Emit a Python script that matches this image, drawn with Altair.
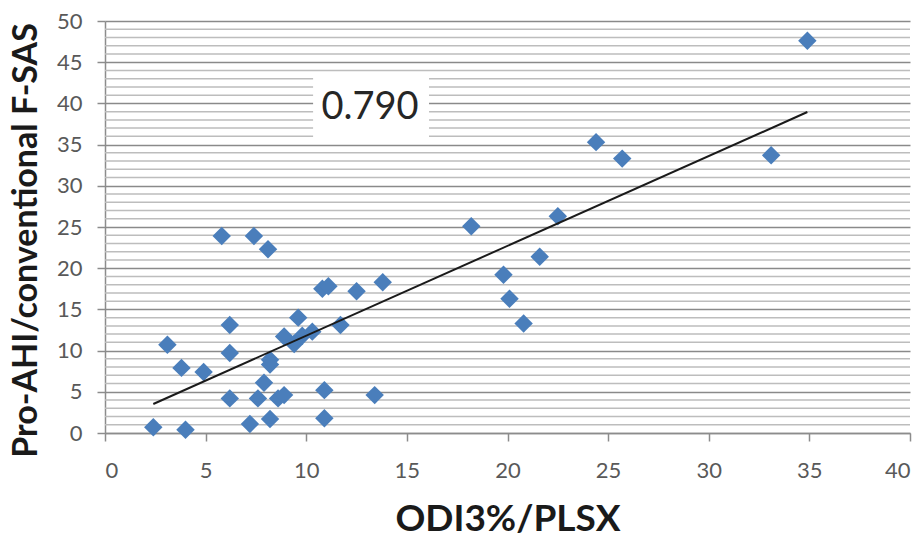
import altair as alt
import pandas as pd

# ODI3%/PLSX (x) vs Pro-AHI/conventional F-SAS (y)
odi = [2.4, 4.0, 3.1, 3.8, 4.9, 5.8, 7.4, 8.1, 6.2, 6.2, 6.2, 7.2, 7.6, 7.9,
       8.2, 8.2, 8.2, 8.6, 8.9, 8.9, 9.6, 9.4, 9.8, 10.3, 10.8, 11.1, 10.9,
       10.9, 11.7, 12.5, 13.8, 13.4, 18.2, 19.8, 20.1, 20.8, 21.6, 22.5,
       24.4, 25.7, 33.1, 34.9]
fsas = [0.7, 0.4, 10.7, 7.9, 7.4, 23.9, 23.9, 22.3, 13.1, 9.7, 4.2, 1.1, 4.2,
        6.1, 8.3, 8.9, 1.7, 4.2, 4.6, 11.7, 14.0, 10.8, 11.8, 12.3, 17.5, 17.8,
        5.2, 1.8, 13.1, 17.2, 18.3, 4.6, 25.1, 19.2, 16.3, 13.3, 21.4, 26.3,
        35.3, 33.3, 33.7, 47.6]

x_ticks = [0, 5, 10, 15, 20, 25, 30, 35, 40]
y_ticks = [0, 5, 10, 15, 20, 25, 30, 35, 40, 45, 50]
y_minor = [v for v in range(0, 51) if v % 5 != 0]

label_text = ["0.790"]
label_x = [13.17]
label_y = [39.4]
box_x = [10.34]
box_x2 = [16.1]
box_y = [35.9]
box_y2 = [43.1]

X_TITLE = "ODI3%/PLSX"
Y_TITLE = "Pro-AHI/conventional F-SAS"
FONT = "Lato"

xs = alt.Scale(domain=[0, 40], nice=False, zero=False)
ys = alt.Scale(domain=[0, 50], nice=False, zero=False)

x_axis = alt.Axis(
    values=x_ticks, grid=False, domainColor="#8c8c8c", domainWidth=1.5,
    tickColor="#8c8c8c", tickWidth=1.5, tickSize=8,
    labelFont=FONT, labelFontSize=22, labelColor="#595959", labelPadding=19,
    title=X_TITLE, titleFont=FONT, titleFontSize=37, titleFontWeight="bold",
    titleColor="#1a1a1a", titleY=86, titleBaseline="middle",
)
y_axis = alt.Axis(
    values=y_ticks, grid=True, gridColor="#8a8a8a", gridWidth=1.6,
    domainColor="#8c8c8c", domainWidth=1.5,
    tickColor="#8c8c8c", tickWidth=1.5, tickSize=8,
    labelFont=FONT, labelFontSize=22, labelColor="#595959", labelPadding=15,
    title=Y_TITLE, titleFont=FONT, titleFontSize=34, titleFontWeight="bold",
    titleColor="#1a1a1a", titleAngle=-90, titleX=-79, titleY=219,
    titleAlign="center", titleBaseline="middle",
)

df = pd.DataFrame({"x": odi, "y": fsas})
minor_df = pd.DataFrame({"y": y_minor})
box_df = pd.DataFrame({"x": box_x, "x2": box_x2, "y": box_y, "y2": box_y2})
lab_df = pd.DataFrame({"x": label_x, "y": label_y, "t": label_text})

minor = alt.Chart(minor_df).mark_rule(color="#bdbdbd", strokeWidth=1.5).encode(
    y=alt.Y("y:Q", scale=ys, axis=y_axis),
    x=alt.value(0), x2=alt.value(805),
)

box = alt.Chart(box_df).mark_rect(color="white").encode(
    x=alt.X("x:Q", scale=xs, axis=x_axis), x2="x2:Q",
    y=alt.Y("y:Q", scale=ys, axis=y_axis), y2="y2:Q",
)

label = alt.Chart(lab_df).mark_text(font=FONT, fontSize=38, color="#262626").encode(
    x=alt.X("x:Q", scale=xs, axis=x_axis),
    y=alt.Y("y:Q", scale=ys, axis=y_axis),
    text="t:N",
)

points = alt.Chart(df).mark_point(shape="diamond", filled=True, opacity=1,
                                   color="#4A7EBB", size=340).encode(
    x=alt.X("x:Q", scale=xs, axis=x_axis),
    y=alt.Y("y:Q", scale=ys, axis=y_axis),
)

trend = alt.Chart(df).transform_regression("x", "y").mark_line(
    color="#1a1a1a", strokeWidth=2).encode(
    x=alt.X("x:Q", scale=xs, axis=x_axis),
    y=alt.Y("y:Q", scale=ys, axis=y_axis),
)

chart = alt.layer(minor, box, label, points, trend).properties(
    width=805, height=412,
    autosize=alt.AutoSizeParams(type="none"),
    padding={"left": 105, "top": 21, "right": 12, "bottom": 108},
    background="white",
).configure_view(stroke=None)

chart.save("out.html", embed_options={"renderer": "svg", "actions": False})
